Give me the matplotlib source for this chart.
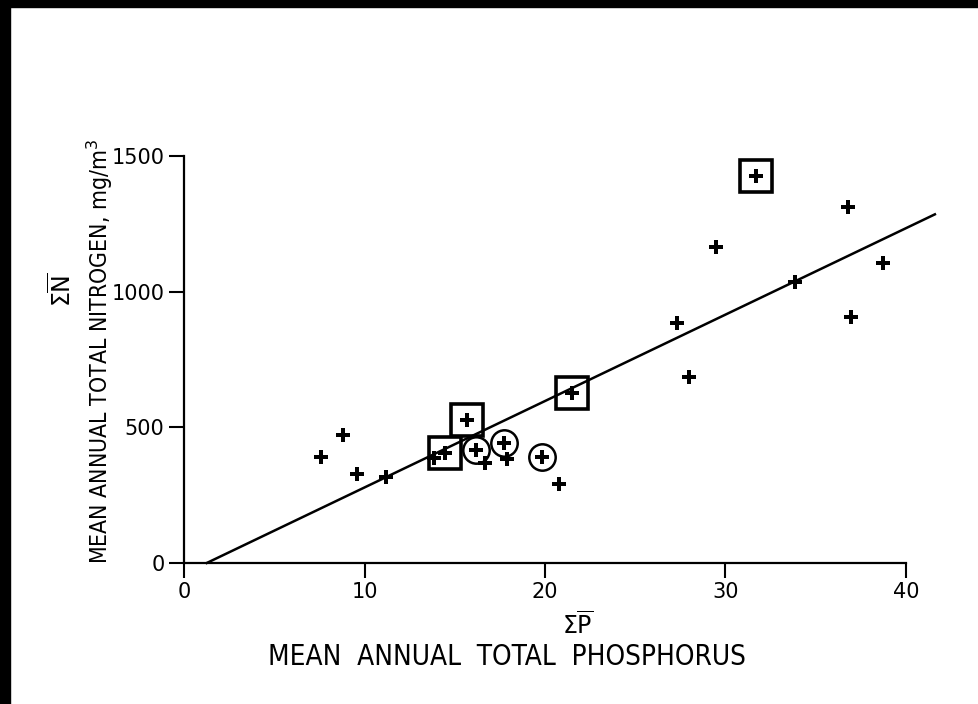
import matplotlib
matplotlib.use("Agg")
import matplotlib.pyplot as plt
from matplotlib.patches import Rectangle

# ---- data ----
plain_p = [7.6, 8.8, 9.6, 11.2, 13.85, 16.7, 17.9, 20.8, 27.3, 28.0, 29.5, 33.85, 36.8, 36.95, 38.7]
plain_n = [390, 471, 327, 318, 387, 367, 385, 291, 885, 684, 1163, 1036, 1312, 905, 1106]

boxed_p = [14.45, 15.7, 21.5, 31.7]
boxed_n = [405, 526, 625, 1425]

circled_p = [16.2, 17.75, 19.85]
circled_n = [416, 441, 389]

fit_p = [1.26, 41.6]
fit_n = [0, 1285]

x_ticks = [0, 10, 20, 30, 40]
y_ticks = [0, 500, 1000, 1500]

W, H = 979, 704
fig = plt.figure(figsize=(W / 100, H / 100), dpi=100)
fig.patch.set_facecolor("white")

# black scan borders
fig.patches.append(Rectangle((0, 0), 10 / W, 1, transform=fig.transFigure, color="black", zorder=10))
fig.patches.append(Rectangle((0, 1 - 7 / H), 1, 7 / H, transform=fig.transFigure, color="black", zorder=10))

x0, x40, y0, y1500 = 184, 906, 563, 156
ax = fig.add_axes([x0 / W, (H - y0) / H, (x40 - x0) / 40 * 42 / W, (y0 - y1500) / H])
ax.set_xlim(0, 42)
ax.set_ylim(0, 1500)

for s in ["top", "right"]:
    ax.spines[s].set_visible(False)
ax.spines["left"].set_bounds(0, 1500)
ax.spines["bottom"].set_bounds(0, 40)
for s in ["left", "bottom"]:
    ax.spines[s].set_linewidth(1.6)

ax.set_xticks(x_ticks)
ax.set_yticks(y_ticks)
ax.set_xticklabels([str(v) for v in x_ticks])
ax.set_yticklabels([str(v) for v in y_ticks])
ax.tick_params(direction="out", length=11, width=1.5, labelsize=15, pad=3)

# regression line
ax.plot(fit_p, fit_n, color="black", lw=1.8, clip_on=False, zorder=2)

# points
ax.plot(plain_p, plain_n, "P", color="black", ms=10.5, mew=0, clip_on=False, zorder=3)
ax.plot(boxed_p, boxed_n, "P", color="black", ms=10.5, mew=0, clip_on=False, zorder=3)
ax.plot(boxed_p, boxed_n, "s", mfc="none", mec="black", ms=23, mew=2.6, clip_on=False, zorder=3)
ax.plot(circled_p, circled_n, "P", color="black", ms=10.5, mew=0, clip_on=False, zorder=3)
ax.plot(circled_p, circled_n, "o", mfc="none", mec="black", ms=19, mew=1.8, clip_on=False, zorder=3)

fig.text(578 / W, 1 - 625 / H, "Σ$\\overline{\\mathrm{P}}$", ha="center", va="center", fontsize=17,
         family="DejaVu Sans")
fig.text(507 / W, 1 - 657 / H, "MEAN  ANNUAL  TOTAL  PHOSPHORUS", ha="center", va="center", fontsize=20,
         family="DejaVu Sans", fontstretch="condensed")
fig.text(62 / W, 1 - 290 / H, "Σ$\\overline{\\mathrm{N}}$", ha="center", va="center", fontsize=17,
         rotation=90, family="DejaVu Sans")
fig.text(100 / W, 1 - 351 / H, "MEAN ANNUAL TOTAL NITROGEN, mg/m$^3$", ha="center", va="center",
         fontsize=16.5, rotation=90, family="DejaVu Sans", fontstretch="condensed")

fig.savefig("out.png", dpi=100, facecolor="white")
